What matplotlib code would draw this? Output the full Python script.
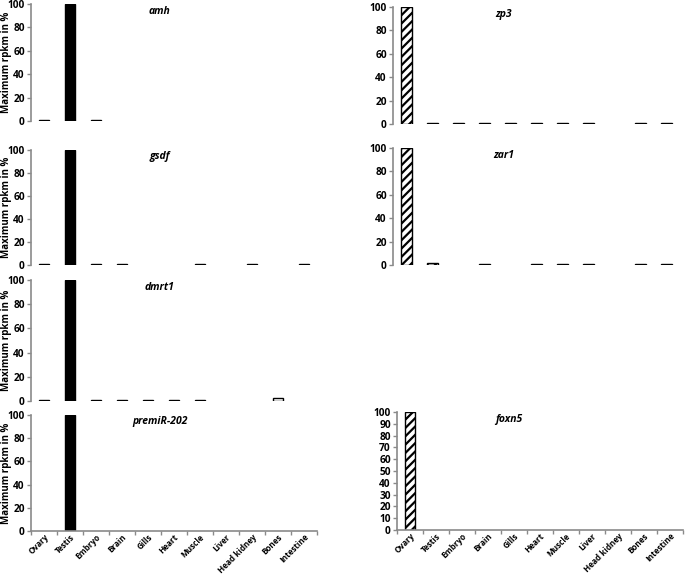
import numpy as np
import matplotlib
matplotlib.use("Agg")
import matplotlib.pyplot as plt

plt.rcParams['font.family'] = ['Open Sans', 'DejaVu Sans']
plt.rcParams['hatch.linewidth'] = 1.6

tissues = ["Ovary", "Testis", "Embryo", "Brain", "Gills", "Heart", "Muscle",
           "Liver", "Head kidney", "Bones", "Intestine"]

# values in % of maximum rpkm
amh = [0.8, 100, 0.6, 0, 0, 0, 0, 0, 0, 0, 0]
gsdf = [1.2, 100, 0.6, 0.6, 0, 0, 0.6, 0, 0.6, 0, 0.6]
dmrt1 = [1.2, 100, 0.6, 0.6, 1.2, 0.6, 0.8, 0, 0, 2.5, 0]
premir202 = [0, 100, 0, 0, 0, 0, 0, 0, 0, 0, 0]
zp3 = [100, 0.6, 0.6, 0.6, 0.6, 0.6, 1.0, 0.6, 0, 1.0, 0.6]
zar1 = [100, 1.6, 0, 0.6, 0, 0.6, 1.2, 0.6, 0, 1.0, 0.6]
foxn5 = [100, 0, 0, 0, 0, 0, 0, 0, 0, 0, 0]

W, H = 685, 575
fig = plt.figure(figsize=(W / 100, H / 100), dpi=100)

GRAY = "#8a8a8a"


def px_axes(left, top, right, bottom):
    return fig.add_axes([left / W, 1 - bottom / H, (right - left) / W, (bottom - top) / H])


def panel(ax, vals, name, hatched, ylabel, xlabels, ystep=20, name_x=0.45, faces=None):
    vals = np.array(vals, dtype=float)
    x = np.arange(len(tissues))
    m = vals > 0
    if faces is None:
        faces = ["white" if hatched else "black"] * len(vals)
    faces = np.array(faces)
    ax.bar(x[m], vals[m], width=0.42, color=faces[m], edgecolor="black",
           linewidth=1.0, hatch="////" if hatched else None)
    ax.set_xlim(-0.5, len(tissues) - 0.5)
    ax.set_ylim(0, 100)
    ax.set_yticks(np.arange(0, 101, ystep))
    for s in ["top", "right"]:
        ax.spines[s].set_visible(False)
    ax.spines["left"].set_color(GRAY)
    ax.spines["left"].set_linewidth(1.2)
    ax.tick_params(axis="y", colors=GRAY, length=3, width=1, labelsize=7.3,
                   labelcolor="black", pad=1.5)
    for t in ax.get_yticklabels():
        t.set_fontweight("bold")
    if xlabels:
        ax.spines["bottom"].set_color(GRAY)
        ax.spines["bottom"].set_linewidth(1.2)
        ax.set_xticks(x)
        ax.set_xticklabels(tissues, rotation=45, ha="right", rotation_mode="anchor",
                           fontsize=5.9, fontweight="bold")
        ax.tick_params(axis="x", length=0, pad=1)
        ax.set_xticks(np.arange(-0.5, len(tissues) + 0.5, 1), minor=True)
        ax.tick_params(axis="x", which="minor", length=3, color=GRAY, width=1)
    else:
        ax.spines["bottom"].set_visible(False)
        ax.set_xticks([])
    if ylabel:
        ax.set_ylabel("Maximum rpkm in %", fontsize=7.0, fontweight="bold")
        ax.yaxis.set_label_coords(-0.066, 0.5)
    ax.text(name_x, 0.94, name, transform=ax.transAxes, ha="center", va="center",
            fontsize=7.5, fontweight="bold", style="italic")


ax = px_axes(31, 4, 317, 121)
panel(ax, amh, "amh", False, True, False)
ax = px_axes(31, 150, 317, 265)
panel(ax, gsdf, "gsdf", False, True, False)
ax = px_axes(31, 280, 317, 401)
dm_faces = ["white" if t == "Bones" else "black" for t in tissues]
panel(ax, dmrt1, "dmrt1", False, True, False, faces=dm_faces)
ax = px_axes(31, 415, 317, 531)
panel(ax, premir202, "premiR-202", False, True, True)

ax = px_axes(393, 7, 680, 124)
panel(ax, zp3, "zp3", True, False, False, name_x=0.385)
ax = px_axes(393, 148, 680, 265)
panel(ax, zar1, "zar1", True, False, False, name_x=0.385)
ax = px_axes(397, 412, 683, 530)
panel(ax, foxn5, "foxn5", True, False, True, ystep=10, name_x=0.39)

fig.savefig("out.png", dpi=100, facecolor="white")
